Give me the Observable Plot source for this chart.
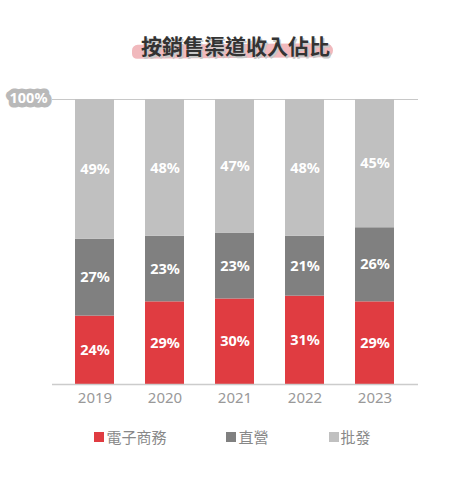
<!DOCTYPE html>
<html><head><meta charset="utf-8">
<script src="https://cdn.jsdelivr.net/npm/d3@7"></script>
<script src="https://cdn.jsdelivr.net/npm/@observablehq/plot@0.6"></script>
<style>
body{margin:0;background:#fff;font-family:"Noto Sans CJK TC","Noto Sans",Roboto,sans-serif;}
#wrap{width:471px;position:relative;}
#title{height:75px;position:relative;}
#brush{position:absolute;left:132px;top:44px;width:201px;height:14px;background:#f1b9bd;border-radius:7px 9px 8px 6px;transform:rotate(-0.5deg);}
#title span{position:absolute;left:0;width:471px;top:30px;text-align:center;font-size:21px;font-weight:700;color:#333;text-shadow:1.5px 1.5px 0 #c8c8c8;line-height:30px;}
#legend{display:flex;justify-content:center;gap:60px;margin-top:12px;padding-right:6px;font-size:15px;color:#888;}
#legend div{display:flex;align-items:center;}
#legend i{display:inline-block;width:10px;height:10px;margin-right:2px;}
#chart .seglabel text{font-size:14.5px !important;font-weight:700;font-family:"Noto Sans",sans-serif;}
#chart .ylab text{font-size:14.5px !important;font-weight:700;font-family:"Noto Sans",sans-serif;}
#chart .xlab text{font-size:15px !important;font-family:"Noto Sans",sans-serif;}
</style></head>
<body><div id="wrap">
<div id="title"><div id="brush"></div><span>按銷售渠道收入佔比</span></div>
<div id="chart"></div>
<div id="legend"></div>
</div>
<script>
const years = ["2019","2020","2021","2022","2023"];
const channels = ["電子商務","直營","批發"];
const ecommerce = [24,29,30,31,29];
const direct = [27,23,23,21,26];
const wholesale = [49,48,47,48,45];
const colors = ["#e03c41","#808080","#c0c0c0"];
const yTickLabel = "100%";

const series = [ecommerce, direct, wholesale];
const data = [];
channels.forEach((c, ci) => years.forEach((y, yi) => data.push({year: y, channel: c, value: series[ci][yi] / 100})));

const chart = Plot.plot({
  width: 471, height: 339,
  marginLeft: 52, marginRight: 53, marginTop: 24, marginBottom: 30,
  style: {fontFamily: "'Noto Sans', sans-serif", background: "#fff"},
  x: {domain: years, paddingInner: 0.437, paddingOuter: 0.296, label: null, tickSize: 0, tickPadding: 8},
  y: {domain: [0, 1], axis: null},
  color: {domain: channels, range: colors},
  marks: [
    Plot.ruleY([1], {stroke: "#c8c8c8", strokeWidth: 1}),
    Plot.barY(data, {x: "year", y: "value", fill: "channel", order: channels}),
    Plot.ruleY([0], {stroke: "#cccccc", strokeWidth: 1.5}),
    Plot.text(data, Plot.stackY({x: "year", y: "value", z: "channel", order: channels, className: "seglabel",
      text: d => Math.round(d.value * 100) + "%", fill: "white", fontWeight: "bold", fontSize: 14.5})),
    Plot.text([1], {y: d => d, text: [yTickLabel], className: "ylab", frameAnchor: "left", textAnchor: "end", dx: -5, dy: -1,
      fill: "white", stroke: "#b9b9b9", strokeWidth: 9, strokeLinejoin: "round", paintOrder: "stroke",
      fontSize: 14.5, fontWeight: "bold"}),
    Plot.axisX({tickSize: 0, tickPadding: 8, fontSize: 15, color: "#999", label: null, className: "xlab"})
  ]
});
chart.querySelectorAll('.xlab text').forEach(t => t.setAttribute("fill", "#999"));
document.getElementById("chart").appendChild(chart);

const legend = document.getElementById("legend");
channels.forEach((c, i) => {
  const d = document.createElement("div");
  d.innerHTML = `<i style="background:${colors[i]}"></i>${c}`;
  legend.appendChild(d);
});
</script>
</body></html>
